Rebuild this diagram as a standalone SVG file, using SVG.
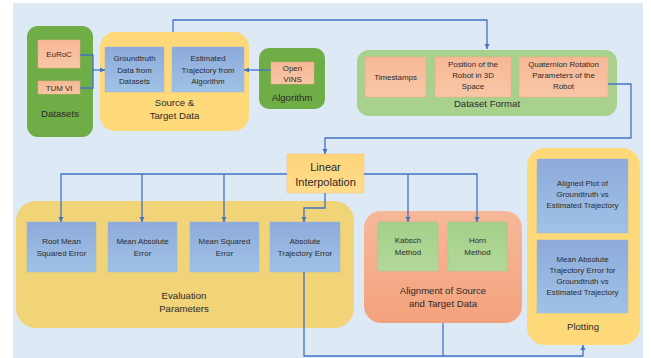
<svg xmlns="http://www.w3.org/2000/svg" width="651" height="358" viewBox="0 0 651 358">
<defs>
<linearGradient id="gBlue" x1="0" y1="0" x2="0" y2="1"><stop offset="0" stop-color="#8eaadb"/><stop offset="1" stop-color="#9fc2e6"/></linearGradient>
<linearGradient id="gSalmon" x1="0" y1="0" x2="0" y2="1"><stop offset="0" stop-color="#f7b896"/><stop offset="1" stop-color="#f8c6a6"/></linearGradient>
<linearGradient id="gGreenSm" x1="0" y1="0" x2="0" y2="1"><stop offset="0" stop-color="#a4d08a"/><stop offset="1" stop-color="#b2d89a"/></linearGradient>
<linearGradient id="gAlign" x1="0" y1="0" x2="0" y2="1"><stop offset="0" stop-color="#f6b89a"/><stop offset="1" stop-color="#f4a27c"/></linearGradient>
<linearGradient id="gLin" x1="0" y1="0" x2="0" y2="1"><stop offset="0" stop-color="#ffd47a"/><stop offset="1" stop-color="#ffdc8c"/></linearGradient>
<marker id="arr" markerWidth="6" markerHeight="6" refX="5" refY="3" orient="auto" markerUnits="userSpaceOnUse"><path d="M0,0.5 L5,3 L0,5.5 z" fill="#4472c4"/></marker>
<style>
text{font-family:"Liberation Sans","DejaVu Sans",sans-serif;fill:#2b2b2b;text-anchor:middle}
.s{font-size:7.9px}
.m{font-size:9.6px}
.l{font-size:11px}
.c{fill:none;stroke:#4472c4;stroke-width:1.3}
.blue{fill:url(#gBlue);stroke:#9ab4d8;stroke-width:0.5}
.sal{fill:url(#gSalmon);stroke:#f2a884;stroke-width:0.5}
</style>
</defs>
<rect x="13" y="3" width="630" height="355" fill="#dde9f5"/>

<g id="datasets">
<rect x="27" y="26" width="66" height="111" rx="11" fill="#6fad47"/>
<rect class="sal" x="38" y="40" width="42" height="28"/>
<text class="s" x="59" y="57">EuRoC</text>
<rect class="sal" x="38" y="81" width="42" height="13"/>
<text class="s" x="59" y="90.5">TUM VI</text>
<text class="m" x="60" y="117">Datasets</text>
</g>

<g id="source-target">
<rect x="100" y="32" width="149" height="99" rx="15" fill="#fed97a"/>
<rect class="blue" x="105" y="47" width="59" height="45"/>
<text class="s" x="134.5" y="61">Groundtruth</text>
<text class="s" x="134.5" y="72.5">Data from</text>
<text class="s" x="134.5" y="84">Datasets</text>
<rect class="blue" x="172" y="47" width="72" height="45"/>
<text class="s" x="208" y="61">Estimated</text>
<text class="s" x="208" y="72.5">Trajectory from</text>
<text class="s" x="208" y="84">Algorithm</text>
<text class="m" x="174.5" y="106">Source &amp;</text>
<text class="m" x="174.5" y="119">Target Data</text>
</g>

<g id="algorithm">
<rect x="259" y="48" width="66" height="61" rx="10" fill="#6fad47"/>
<rect class="sal" x="271" y="62" width="43" height="22"/>
<text class="s" x="292.5" y="71">Open</text>
<text class="s" x="292.5" y="81.5">VINS</text>
<text class="m" x="292" y="101">Algorithm</text>
</g>

<g id="dataset-format">
<rect x="357" y="50" width="260" height="66" rx="12" fill="#a9d18e"/>
<rect class="sal" x="365" y="57" width="61" height="40"/>
<text class="s" x="395.5" y="79.5">Timestamps</text>
<rect class="sal" x="435" y="57" width="76" height="40"/>
<text class="s" x="473" y="67">Position of the</text>
<text class="s" x="473" y="78">Robot in 3D</text>
<text class="s" x="473" y="89">Space</text>
<rect class="sal" x="519" y="57" width="89" height="40"/>
<text class="s" x="563.5" y="67">Quaternion Rotation</text>
<text class="s" x="563.5" y="78">Parameters of the</text>
<text class="s" x="563.5" y="89">Robot</text>
<text class="m" x="487" y="107">Dataset Format</text>
</g>

<g id="linear-interpolation">
<rect x="287" y="154" width="77" height="39" fill="url(#gLin)" stroke="#f7c870" stroke-width="0.5"/>
<text class="l" x="325.5" y="170.5">Linear</text>
<text class="l" x="325.5" y="185.5">Interpolation</text>
</g>

<g id="evaluation">
<rect x="16" y="201" width="338" height="127" rx="20" fill="#f1d378"/>
<rect class="blue" x="27" y="222" width="69" height="50"/>
<text class="s" x="61.5" y="244">Root Mean</text>
<text class="s" x="61.5" y="255.5">Squared Error</text>
<rect class="blue" x="108" y="222" width="69" height="50"/>
<text class="s" x="142.5" y="244">Mean Absolute</text>
<text class="s" x="142.5" y="255.5">Error</text>
<rect class="blue" x="190" y="222" width="69" height="50"/>
<text class="s" x="224.5" y="244">Mean Squared</text>
<text class="s" x="224.5" y="255.5">Error</text>
<rect class="blue" x="270" y="222" width="70" height="50"/>
<text class="s" x="305" y="244">Absolute</text>
<text class="s" x="305" y="255.5">Trajectory Error</text>
<text class="m" x="184" y="299">Evaluation</text>
<text class="m" x="184" y="312">Parameters</text>
</g>

<g id="alignment">
<rect x="364" y="211" width="158" height="112" rx="17" fill="url(#gAlign)"/>
<rect x="378" y="222" width="60" height="49" fill="url(#gGreenSm)" stroke="#9cc783" stroke-width="0.5"/>
<text class="s" x="408" y="243">Kabsch</text>
<text class="s" x="408" y="254.5">Method</text>
<rect x="448" y="222" width="59" height="49" fill="url(#gGreenSm)" stroke="#9cc783" stroke-width="0.5"/>
<text class="s" x="477.5" y="243">Horn</text>
<text class="s" x="477.5" y="254.5">Method</text>
<text class="m" x="443" y="294">Alignment of Source</text>
<text class="m" x="443" y="307">and Target Data</text>
</g>

<g id="plotting">
<rect x="527" y="148" width="113" height="197" rx="18" fill="#fed97a"/>
<rect class="blue" x="537" y="159" width="91" height="74"/>
<text class="s" x="582.5" y="186">Aligned Plot of</text>
<text class="s" x="582.5" y="197">Groundtruth vs</text>
<text class="s" x="582.5" y="208">Estimated Trajectory</text>
<rect class="blue" x="537" y="240" width="91" height="73"/>
<text class="s" x="582.5" y="262">Mean Absolute</text>
<text class="s" x="582.5" y="273">Trajectory Error for</text>
<text class="s" x="582.5" y="284">Groundtruth vs</text>
<text class="s" x="582.5" y="295">Estimated Trajectory</text>
<text class="m" x="583" y="330">Plotting</text>
</g>

<g id="connectors">
<path class="c" d="M80,55 H93 V88 H80"/>
<path class="c" d="M93,70 H105" marker-end="url(#arr)"/>
<path class="c" d="M271,70 H244" marker-end="url(#arr)"/>
<path class="c" d="M173,32 V20 H487 V49" marker-end="url(#arr)"/>
<path class="c" d="M608,84 H631 V138 H325 V154" marker-end="url(#arr)"/>
<path class="c" d="M287,174 H61 V222" marker-end="url(#arr)"/>
<path class="c" d="M142,174 V222" marker-end="url(#arr)"/>
<path class="c" d="M224,174 V222" marker-end="url(#arr)"/>
<path class="c" d="M325,193 V208 H304 V222" marker-end="url(#arr)"/>
<path class="c" d="M364,174 H477 V222" marker-end="url(#arr)"/>
<path class="c" d="M408,174 V222" marker-end="url(#arr)"/>
<path class="c" d="M304,272 V356 H583 V345" marker-end="url(#arr)"/>
<path class="c" d="M443,323 V356"/>
</g>
</svg>
